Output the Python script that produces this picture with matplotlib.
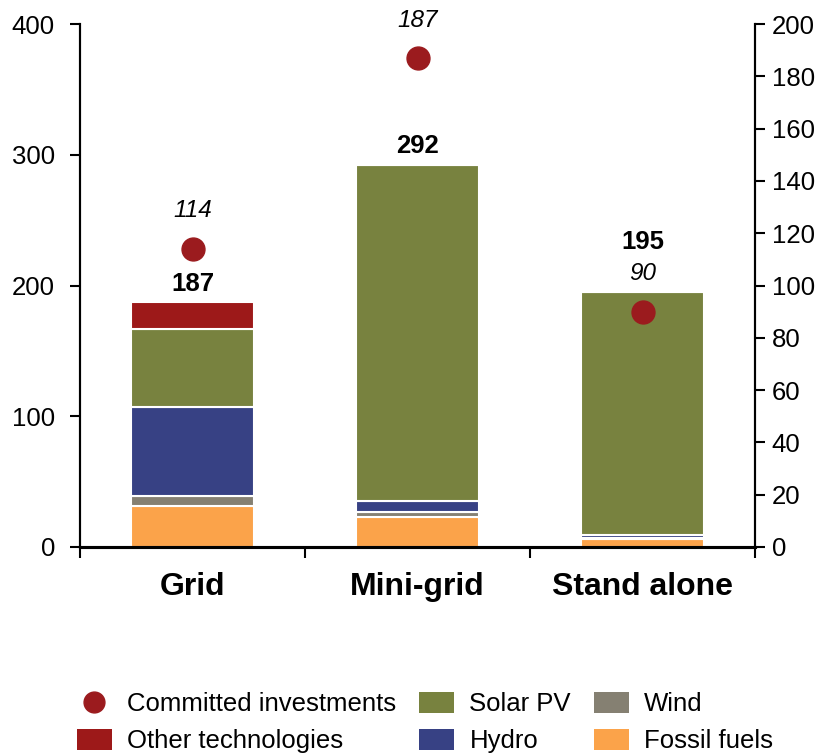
import matplotlib
matplotlib.use("Agg")
import matplotlib.pyplot as plt
from matplotlib.patches import Patch
from matplotlib.lines import Line2D
import numpy as np

plt.rcParams['font.family'] = ['Liberation Sans', 'DejaVu Sans']

categories = ["Grid", "Mini-grid", "Stand alone"]
fossil = [31, 23, 6]
wind = [8, 4, 1]
hydro = [68, 8, 2]
solar = [60, 257, 186]
other = [20, 0, 0]
totals = [187, 292, 195]
committed = [114, 187, 90]

series = [
    ("Fossil fuels", fossil, "#FBA34A"),
    ("Wind", wind, "#858072"),
    ("Hydro", hydro, "#374184"),
    ("Solar PV", solar, "#78823F"),
    ("Other technologies", other, "#9D1919"),
]
dot_color = "#9B1B1E"

fig = plt.figure(figsize=(8.27, 7.53), dpi=100)
ax = fig.add_axes([80/827, 1-547/753, (755-80)/827, (547-24)/753])
ax2 = ax.twinx()

x = np.arange(len(categories))
bottom = np.zeros(len(categories))
for name, vals, col in series:
    v = np.array(vals, dtype=float)
    ax.bar(x, v, width=0.55, bottom=bottom, color=col, edgecolor="white", linewidth=1.5, zorder=2)
    bottom += v

ax2.plot(x, committed, linestyle="none", marker="o", markersize=16.5, color=dot_color, zorder=3)

ax.set_xlim(-0.5, 2.5)
ax.set_ylim(0, 400)
ax2.set_ylim(0, 200)
ax.set_yticks(np.arange(0, 401, 100))
ax2.set_yticks(np.arange(0, 201, 20))

# labels
for i in range(len(categories)):
    dot_lbl = committed[i] * 2 + 29
    bar_lbl = totals[i] + 14.5
    if abs(bar_lbl - dot_lbl) < 20:
        bar_lbl = dot_lbl + 24
    ax.text(x[i], bar_lbl, str(totals[i]), ha="center", va="center", fontsize=18.5, fontweight="bold", zorder=4)
    ax.text(x[i], dot_lbl, str(committed[i]), ha="center", va="center", fontsize=17.5, style="italic", zorder=4, clip_on=False)

ax.set_xticks([-0.5, 0.5, 1.5, 2.5])
ax.set_xticklabels([])
ax.set_xticks(x, minor=True)
ax.set_xticklabels(categories, minor=True, fontsize=23, fontweight="bold")
ax.tick_params(axis="x", which="minor", length=0, pad=18)
ax.tick_params(axis="x", which="major", length=8, width=1.5, direction="out")
ax.tick_params(axis="y", labelsize=18.5, length=7, width=1.5, direction="out", pad=11)
ax2.tick_params(axis="y", labelsize=18.5, length=7, width=1.5, direction="out", pad=5)

for a in (ax, ax2):
    a.spines["top"].set_visible(False)
    a.spines["left"].set_linewidth(1.5)
    a.spines["right"].set_linewidth(1.5)
    a.spines["bottom"].set_linewidth(2.2)

handles = [
    Line2D([], [], linestyle="none", marker="o", markersize=15, color=dot_color, label="Committed investments"),
    Patch(facecolor="#9D1919", label="Other technologies"),
    Patch(facecolor="#78823F", label="Solar PV"),
    Patch(facecolor="#374184", label="Hydro"),
    Patch(facecolor="#858072", label="Wind"),
    Patch(facecolor="#FBA34A", label="Fossil fuels"),
]
fig.legend(handles=handles, ncol=3, loc="center", bbox_to_anchor=(0.514, 0.040),
           frameon=False, fontsize=18.5, handlelength=1.35, handleheight=0.85,
           handletextpad=0.6, columnspacing=0.9, labelspacing=0.5, borderpad=0)

fig.savefig("out.png", dpi=100)
